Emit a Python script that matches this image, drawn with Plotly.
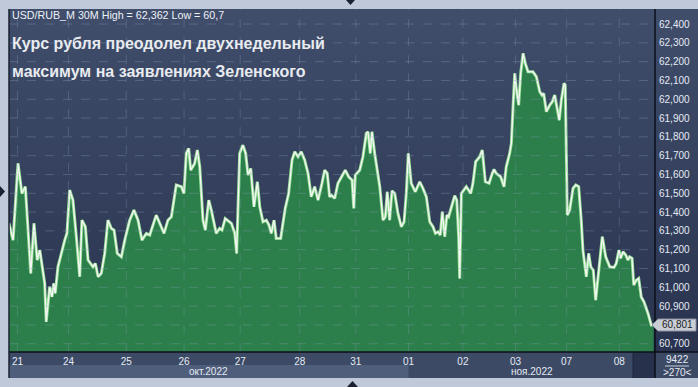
import base64
import plotly.graph_objects as go

# ---------------- data ----------------
bar_index = [
    0.0, 2.4, 5.3, 7.6, 9.6, 11.2, 12.8, 14.7, 16.6, 18.1, 19.6, 21.0, 21.9, 23.9, 25.3, 26.3, 27.2, 28.8,
    32.8, 34.1, 35.7, 37.6, 39.6, 41.6, 42.9, 44.9, 46.5, 49.4, 50.8, 52.4, 54.3, 56.3, 58.2, 60.2, 61.8,
    63.7, 66.1, 68.1, 71.0, 73.5, 75.9, 78.2, 80.8, 82.8, 86.6, 91.2, 93.5,
    95.5, 98.4, 101.4, 102.9, 104.3, 105.7, 106.9, 109.2, 110.8, 112.2, 114.1, 115.5, 117.5, 119.0, 121.9,
    123.9, 125.3, 127.2, 130.8, 132.8, 133.9, 135.7, 137.6, 139.2, 140.6, 142.2, 144.1, 146.1, 147.5, 149.4,
    151.4, 152.9, 154.3, 155.9, 157.2, 159.8, 161.2, 162.5, 164.5, 166.5, 168.1, 170.0, 171.9, 173.9, 175.9,
    177.8, 179.8, 181.8, 184.1, 185.7, 187.2, 188.6,
    189.6, 191.6, 193.5, 196.5, 197.8, 199.8, 201.8, 202.8, 203.7, 206.3, 208.2, 210.2, 211.2, 212.5, 213.5,
    215.1, 216.6, 218.1, 220.0, 221.4, 222.5, 223.9, 225.3, 226.9, 228.8, 230.8, 232.4, 233.7, 234.9, 236.6,
    239.0, 241.6, 243.5, 245.5, 247.5, 249.4, 250.8, 252.4, 253.7, 254.9, 256.3, 257.6, 258.6, 260.6, 262.2,
    263.4, 264.5, 265.1, 266.1, 269.0, 271.6, 272.9, 274.5, 276.9, 278.4, 280.2, 282.4, 284.3,
    285.3, 286.6, 289.2, 291.2, 292.5, 294.5, 295.5, 296.5, 297.5, 298.4, 299.8, 301.0, 302.4, 303.7, 305.3,
    308.2, 310.2, 312.2, 313.5, 314.5, 316.1, 318.1, 319.6, 321.0, 322.4, 323.7, 324.9, 326.5, 327.2, 327.8,
    328.4, 329.8, 331.8, 333.4, 335.1, 336.6, 337.6, 339.6, 341.0, 342.2, 343.7, 345.1, 347.1, 349.0, 351.0,
    353.4, 355.9, 357.2, 358.8, 359.8, 361.2, 362.8, 364.1, 365.1, 366.5, 367.5, 369.0, 370.4, 371.9, 373.5,
    375.9, 377.8, 379.2,
]
usd_rub = [
    61.340, 61.251, 61.659, 61.499, 61.535, 61.322, 61.074, 61.340, 61.145, 61.198, 61.109, 61.021, 60.816,
    61.003, 60.949, 61.021, 60.968, 61.109, 61.251, 61.287, 61.517, 61.464, 61.269, 61.056, 61.357, 61.322,
    61.145, 61.109, 61.127, 61.056, 61.074, 61.180, 61.357, 61.313, 61.304, 61.180, 61.162, 61.251, 61.357,
    61.411, 61.357, 61.251, 61.287, 61.278, 61.384, 61.287, 61.357,
    61.375, 61.544, 61.535, 61.499, 61.712, 61.739, 61.623, 61.659, 61.730, 61.641, 61.357, 61.304, 61.464,
    61.411, 61.287, 61.313, 61.304, 61.366, 61.340, 61.287, 61.180, 61.712, 61.756, 61.712, 61.597, 61.632,
    61.428, 61.561, 61.428, 61.348, 61.357, 61.331, 61.287, 61.357, 61.260, 61.260, 61.357, 61.420, 61.499,
    61.677, 61.721, 61.694, 61.721, 61.677, 61.606, 61.481, 61.535, 61.464, 61.553, 61.623, 61.606, 61.481,
    61.490, 61.473, 61.553, 61.606, 61.623, 61.588, 61.570, 61.420, 61.597, 61.623, 61.694, 61.819, 61.827,
    61.712, 61.827, 61.712, 61.614, 61.535, 61.357, 61.375, 61.508, 61.357, 61.513, 61.499, 61.393, 61.322,
    61.348, 61.499, 61.712, 61.553, 61.508, 61.561, 61.526, 61.481, 61.348, 61.322, 61.287, 61.295, 61.278,
    61.402, 61.269, 61.384, 61.375, 61.437, 61.487, 61.464, 61.269, 61.047, 61.499, 61.535, 61.499, 61.553,
    61.668, 61.694, 61.730, 61.561, 61.553, 61.606,
    61.627, 61.606, 61.588, 61.535, 61.641, 61.712, 61.765, 61.960, 62.138, 62.058, 61.969, 62.138, 62.244,
    62.191, 62.146, 62.146, 62.120, 62.040, 62.022, 62.031, 61.934, 61.969, 61.987, 62.022, 61.952, 61.889,
    61.996, 62.085, 62.076, 61.553, 61.384, 61.411, 61.526, 61.544, 61.535, 61.357, 61.198, 61.056, 61.180,
    61.109, 61.091, 60.932, 61.109, 61.269, 61.162, 61.109, 61.106, 61.127, 61.198, 61.154, 61.189, 61.171,
    61.145, 61.162, 61.154, 61.012, 61.038, 61.047, 60.949, 60.923, 60.861, 60.799, 60.801,
]
day_tick_bars = [5, 35, 69, 103, 136, 171, 204, 235, 267, 298, 328, 359]
day_tick_labels = ["21", "24", "25", "26", "27", "28", "31", "01", "02", "03", "07", "08"]
month_labels = ["окт.2022", "ноя.2022"]
month_start_bars = [0, 235]
x_end = 380
price_ticks = [60.7, 60.8, 60.9, 61.0, 61.1, 61.2, 61.3, 61.4, 61.5, 61.6, 61.7, 61.8, 61.9, 62.0,
               62.1, 62.2, 62.3, 62.4]
y_range = [60.656, 62.480]
last_price_label = "60,801"
header = "USD/RUB_M 30M High = 62,362 Low = 60,7"
title_lines = ["Курс рубля преодолел двухнедельный", "максимум на заявлениях Зеленского"]
corner_top, corner_bottom = "9422", ">270<"

# tick labels; the one hidden behind the last-price marker is left blank
price_tick_labels = ["" if abs(v - usd_rub[-1]) < 0.05 else f"{v:.3f}".replace(".", ",")
                     for v in price_ticks]

# ---------------- geometry helpers (decoration only) ----------------
W, H = 698, 387
ML, MR, MT, MB = 9, 43, 9, 35
PW, PH = W - ML - MR, H - MT - MB


def px(x):
    return (x - ML) / PW


def py(y):
    return (H - MB - y) / PH


FONT = "Liberation Sans, Arial, sans-serif"
TXT = "#e4eaf4"

fig = go.Figure()
fig.add_trace(go.Scatter(x=bar_index, y=usd_rub, mode="lines", fill="tozeroy",
                         fillcolor="#2c7f4a", line=dict(width=0, color="#2c7f4a"),
                         hoverinfo="skip", showlegend=False))
fig.add_trace(go.Scatter(x=bar_index, y=usd_rub, mode="lines",
                         line=dict(width=3.0, color="#8fdc8f"), hoverinfo="skip", showlegend=False))
fig.add_trace(go.Scatter(x=bar_index, y=usd_rub, mode="lines",
                         line=dict(width=1.4, color="#f4f5f4"), hoverinfo="skip", showlegend=False))

shapes = []
# bottom axis panel
shapes.append(dict(type="rect", xref="paper", yref="paper", x0=0, x1=px(W), y0=py(378), y1=0,
                   fillcolor="#3d4a66", line_width=0, layer="below"))
# October band in month row
shapes.append(dict(type="rect", xref="x", yref="paper", x0=month_start_bars[0], x1=month_start_bars[1],
                   y0=py(378), y1=py(365), fillcolor="#4f5e7b", line_width=0, layer="below"))
# dark scroll box
shapes.append(dict(type="rect", xref="paper", yref="paper", x0=px(633), x1=1, y0=py(378), y1=0,
                   fillcolor="#27314b", line_width=0, layer="below"))
# gridlines (above the fill, faint)
for v in price_ticks:
    shapes.append(dict(type="line", xref="paper", yref="y", x0=0, x1=1, y0=v, y1=v,
                       line=dict(color="rgba(140,160,195,0.33)", width=1, dash="dash"), layer="above"))
for b in day_tick_bars:
    shapes.append(dict(type="line", xref="x", yref="paper", x0=b, x1=b, y0=0, y1=1,
                       line=dict(color="rgba(140,160,195,0.28)", width=1, dash="dash"), layer="above"))
# frame lines
shapes.append(dict(type="line", xref="paper", yref="paper", x0=1, x1=1, y0=py(378), y1=1,
                   line=dict(color="#0b0f18", width=1.5)))
shapes.append(dict(type="line", xref="paper", yref="paper", x0=0, x1=px(W), y0=0, y1=0,
                   line=dict(color="#0b0f18", width=1.5)))
shapes.append(dict(type="line", xref="paper", yref="paper", x0=0, x1=0, y0=py(378), y1=1,
                   line=dict(color="#1a2030", width=1.5)))
shapes.append(dict(type="line", xref="paper", yref="paper", x0=px(633), x1=px(633), y0=py(378), y1=0,
                   line=dict(color="#1e2538", width=1)))
# corner separator
shapes.append(dict(type="line", xref="paper", yref="paper", x0=px(665), x1=px(689), y0=py(366), y1=py(366),
                   line=dict(color="#c8d0dc", width=1)))
# price marker pointer and box
shapes.append(dict(type="path", xref="paper", yref="paper",
                   path=f"M {px(652)},{py(325)} L {px(658)},{py(319)} L {px(696)},{py(319)} "
                        f"L {px(696)},{py(331)} L {px(658)},{py(331)} Z",
                   fillcolor="#c9cdd4", line=dict(color="#8a90a0", width=1)))
# small navigation triangles
shapes.append(dict(type="path", xref="paper", yref="paper",
                   path=f"M {px(346)},{py(0)} L {px(355)},{py(0)} L {px(350.5)},{py(5)} Z",
                   fillcolor="#1b2130", line_width=0))
shapes.append(dict(type="path", xref="paper", yref="paper",
                   path=f"M {px(347)},{py(387)} L {px(358)},{py(387)} L {px(352.5)},{py(381)} Z",
                   fillcolor="#1b2130", line_width=0))
shapes.append(dict(type="path", xref="paper", yref="paper",
                   path=f"M {px(0)},{py(186)} L {px(0)},{py(197)} L {px(5)},{py(191.5)} Z",
                   fillcolor="#1b2130", line_width=0))

annotations = [
    dict(text=header, xref="paper", yref="paper", x=px(10), y=py(15), xanchor="left", yanchor="middle",
         showarrow=False, font=dict(family=FONT, size=10.7, color="#edf1f8")),
    dict(text=title_lines[0], xref="paper", yref="paper", x=px(10), y=py(43), xanchor="left",
         yanchor="middle", showarrow=False, font=dict(family=FONT, size=16, color="#e8ebef", weight="bold")),
    dict(text=title_lines[1], xref="paper", yref="paper", x=px(10), y=py(71), xanchor="left",
         yanchor="middle", showarrow=False, font=dict(family=FONT, size=16, color="#e8ebef", weight="bold")),
    dict(text=last_price_label, xref="paper", yref="y", x=px(677), y=usd_rub[-1], xanchor="center",
         yanchor="middle", showarrow=False, font=dict(family=FONT, size=10, color="#1b1f28")),
    dict(text=corner_top, xref="paper", yref="paper", x=px(677), y=py(359), xanchor="center",
         yanchor="middle", showarrow=False, font=dict(family=FONT, size=10, color=TXT)),
    dict(text=corner_bottom, xref="paper", yref="paper", x=px(677), y=py(372.5), xanchor="center",
         yanchor="middle", showarrow=False, font=dict(family=FONT, size=10, color=TXT)),
]
month_ends = month_start_bars[1:] + [x_end]
for lab, s, e in zip(month_labels, month_start_bars, month_ends):
    annotations.append(dict(text=lab, xref="x", yref="paper", x=(s + e) / 2, y=py(371.5), xanchor="center",
                            yanchor="middle", showarrow=False, font=dict(family=FONT, size=10, color=TXT)))

svg = ('<svg xmlns="http://www.w3.org/2000/svg" width="10" height="100" preserveAspectRatio="none">'
       '<defs><linearGradient id="g" x1="0" y1="0" x2="0" y2="1">'
       '<stop offset="0" stop-color="#404e6b"/><stop offset="1" stop-color="#29334f"/>'
       '</linearGradient></defs><rect width="10" height="100" fill="url(#g)"/></svg>')
bg_src = "data:image/svg+xml;base64," + base64.b64encode(svg.encode()).decode()

fig.update_layout(
    width=W, height=H,
    margin=dict(l=ML, r=MR, t=MT, b=MB, pad=0, autoexpand=False),
    paper_bgcolor="#bfc9d9",
    plot_bgcolor="rgba(0,0,0,0)",
    showlegend=False,
    hovermode=False,
    images=[dict(source=bg_src, xref="paper", yref="paper", x=0, y=1, sizex=px(W), sizey=1,
                 xanchor="left", yanchor="top", sizing="stretch", layer="below")],
    shapes=shapes,
    annotations=annotations,
    xaxis=dict(range=[0, x_end], tickvals=day_tick_bars, ticktext=day_tick_labels, showgrid=False,
               zeroline=False, showline=False, ticks="", ticklabelstandoff=2, automargin=False,
               tickfont=dict(family=FONT, size=10, color=TXT), fixedrange=True),
    yaxis=dict(range=y_range, side="right", tickvals=price_ticks, ticktext=price_tick_labels,
               showgrid=False, zeroline=False, showline=False, ticks="", ticklabelstandoff=3,
               automargin=False, tickfont=dict(family=FONT, size=10, color=TXT), fixedrange=True),
)

fig.write_html("out.html", config={"displayModeBar": False},
               post_script="document.body.style.margin='0';document.body.style.padding='0';"
                           "document.body.style.overflow='hidden';")
